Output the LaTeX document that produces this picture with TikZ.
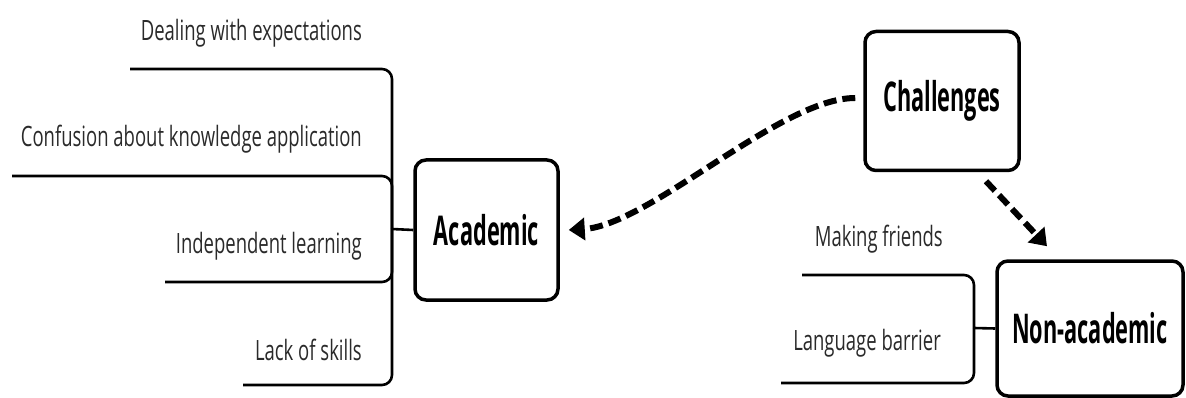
\documentclass[tikz,border=0pt]{standalone}
\usepackage{fontspec}
\setmainfont[FakeStretch=0.66]{Open Sans}
\newfontfamily\catfont[FakeStretch=0.53]{Open Sans}
\usetikzlibrary{arrows.meta}
\definecolor{labelgray}{HTML}{2A2A2A}
\tikzset{
  catbox/.style={draw=black, line width=3.5pt, rounded corners=11pt, font=\catfont\fontsize{41}{45}\selectfont\bfseries, text=black, inner sep=0pt},
  leaf/.style={font=\fontsize{28}{32}\selectfont, text=labelgray, anchor=base east, inner sep=0pt},
  branch/.style={line width=2.6pt, rounded corners=10pt},
  dasharrow/.style={line width=6pt, dash pattern=on 13pt off 6pt, -{Triangle[length=16pt,width=22pt]}}
}
\begin{document}
\begin{tikzpicture}[x=1pt,y=-1pt]
\useasboundingbox (0,0) rectangle (1186,398);
% category boxes
\node[catbox, minimum width=143pt, minimum height=140pt] (ac) at (486.5,230) {Academic};
\node[catbox, minimum width=154pt, minimum height=139pt] (ch) at (942,101) {Challenges};
\node[catbox, minimum width=186pt, minimum height=135pt] (na) at (1090,328.5) {Non-academic};
% leaf labels
\node[leaf] (l1) at (362,41) {Dealing with expectations};
\node[leaf] (l2) at (362,147) {Confusion about knowledge application};
\node[leaf] (l3) at (362,253) {Independent learning};
\node[leaf] (l4) at (362,360) {Lack of skills};
\node[leaf] (n1) at (943,247) {Making friends};
\node[leaf] (n2) at (941,350) {Language barrier};
% junctions
\coordinate (ja) at (392,229);
\coordinate (jn) at (974,328);
\coordinate (u1) at (130,69);
\coordinate (u2) at (12,176);
\coordinate (u3) at (165,282);
\coordinate (u4) at (243,385);
\coordinate (v1) at (802,275);
\coordinate (v2) at (781,383);
% branches
\draw[branch] (u1) -| (ja);
\draw[branch] (u2) -| (ja);
\draw[branch] (u3) -| (ja);
\draw[branch] (u4) -| (ja);
\draw[line width=2.6pt] (ja) -- (ac.west);
\draw[branch] (v1) -| (jn);
\draw[branch] (v2) -| (jn);
\draw[line width=2.6pt] (jn) -- (na.west);
% arrows
\draw[dasharrow] ([xshift=-8pt,yshift=3pt]ch.west) .. controls (780,98) and (650,225) .. ([xshift=9pt]ac.east);
\draw[dasharrow] ([xshift=44pt,yshift=-9pt]ch.south) -- ([xshift=-43pt,yshift=13pt]na.north);
\end{tikzpicture}
\end{document}
